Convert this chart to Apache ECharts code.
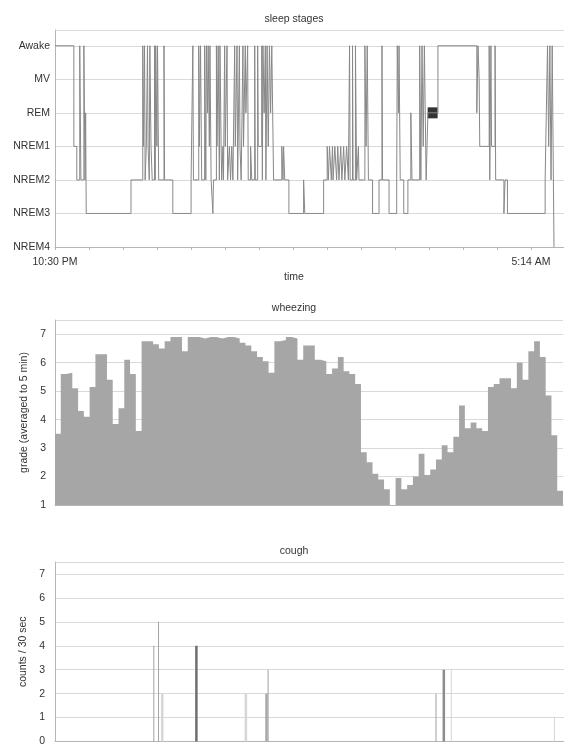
<!DOCTYPE html>
<html>
<head>
<meta charset="utf-8">
<script src="https://cdn.jsdelivr.net/npm/echarts@6/dist/echarts.min.js"></script>
<style>
html,body{margin:0;padding:0;background:#fff;}
#c{width:564px;height:747px;}
</style>
</head>
<body>
<div id="c"></div>
<script>
// ---------- DATA ----------
// sleep stages (0=NREM4 ... 6=Awake); times in minutes after 10:30 PM
var stageNames = ['NREM4', 'NREM3', 'NREM2', 'NREM1', 'REM', 'MV', 'Awake'];
var xTickLabels = ['10:30 PM', '5:14 AM'];
var xTickMinutes = [0, 404];

var hypTimes = [
  0, 16, 18.5, 21, 22, 24.5, 25.5, 26, 26.5,
  64.5,
  74.5, 75, 76, 76.5, 77.5, 78.5, 79, 80, 80.5, 81.5, 82.5, 84.5, 85, 85.5, 86.5, 87, 88, 92.5, 93,
  100, 115.5,
  117, 117.5, 122, 122.5, 123.5, 124.5, 127, 128, 128.5, 129.5, 130, 131, 131.5, 132.5, 134, 134.5,
  137, 137.5, 138.5, 139.5, 140, 141, 141.5, 142.5, 143, 144, 144.5, 146, 146.5, 148, 149, 150, 151,
  152.5, 153, 154.5, 155, 156.5, 157, 158, 159.5, 160, 161.5, 162, 163.5, 164, 166, 167, 169.5, 170,
  172, 172.5, 175.5, 176, 176.5, 177.5, 178.5, 179, 180, 181, 182, 183, 184, 185.5,
  192.5, 193.5, 194, 195, 198.5, 211, 212, 228,
  231, 232, 233, 234.5, 235.5, 236, 237.5, 239, 240, 241, 242.5, 243.5, 245, 246, 247.5, 249,
  250, 250.5, 252.5, 253, 255, 256, 257.5, 258, 263, 264, 265, 266, 269.5, 275,
  277.5, 278, 283.5, 290, 290.5, 291.5, 292, 293, 296, 299.5,
  302, 303, 309.5, 310.5, 311.5, 312.5, 313.5, 315, 316.5,
  325, 358, 359, 360, 360.5, 368.5, 369, 370, 370.5, 373.5, 374,
  381, 382, 384, 416, 417, 418, 419, 420, 421, 422, 423.5
];
var hypStages = [
  6, 3, 2, 6, 2, 6, 2, 4, 1,
  2,
  6, 3, 6, 2, 3, 6, 3, 2, 6, 3, 2, 6, 2, 6, 3, 6, 2, 6, 2,
  1, 2,
  6, 2, 6, 3, 6, 2, 6, 2, 6, 4, 6, 3, 6, 2, 1, 2,
  6, 3, 6, 2, 6, 3, 2, 3, 2, 6, 3, 6, 2, 3, 2, 3, 2,
  6, 3, 6, 2, 6, 3, 2, 6, 3, 6, 4, 6, 2, 3, 2, 6, 2,
  6, 3, 6, 2, 6, 4, 6, 2, 6, 3, 6, 4, 6, 2,
  3, 2, 3, 2, 1, 2, 1, 2,
  3, 2, 3, 2, 3, 2, 3, 2, 3, 2, 3, 2, 3, 2, 3, 2,
  6, 2, 6, 2, 6, 2, 3, 2, 6, 3, 6, 2, 1, 2,
  6, 2, 1, 2, 6, 4, 6, 2, 1, 2,
  4, 2, 6, 2, 6, 3, 6, 2, 4,
  6, 4, 6, 5, 3, 6, 2, 6, 3, 6, 2,
  1, 2, 1, 2, 4, 6, 3, 6, 2, 6, 0
];
var remBlockTime = [320.5];
var remBlockStage = [4];

// wheezing grade averaged to 5 min (one value per 5-min bin)
var wheezing = [
  3.5, 5.6, 5.65, 5.1, 4.3, 4.1, 5.15, 6.3, 6.3, 5.4,
  3.85, 4.4, 6.1, 5.6, 3.6, 6.75, 6.75, 6.65, 6.5, 6.75,
  6.9, 6.9, 6.4, 6.9, 6.9, 6.85, 6.9, 6.9, 6.85, 6.9,
  6.9, 6.85, 6.7, 6.6, 6.4, 6.2, 6.05, 5.65, 6.75, 6.8,
  6.9, 6.85, 6.1, 6.6, 6.6, 6.1, 6.05, 5.6, 5.8, 6.2,
  5.7, 5.6, 5.25, 2.85, 2.5, 2.1, 1.9, 1.55, 1.0, 1.95,
  1.55, 1.7, 2.0, 2.8, 2.05, 2.25, 2.6, 3.1, 2.85, 3.4,
  4.5, 3.7, 3.9, 3.7, 3.6, 5.15, 5.25, 5.45, 5.45, 5.1,
  6.0, 5.4, 6.4, 6.75, 6.2, 4.85, 3.45, 1.5
];

// cough counts per 30 sec (minutes after 10:30 PM)
var coughTimes = [84.5, 88.5, 91, 120, 162, 179.5, 181.5, 324, 330, 337, 424.5];
var coughCounts = [4, 5, 2, 4, 2, 2, 3, 2, 3, 3, 1];

// ---------- STYLE ----------
var coughShade = ['#a2a2a2', '#a2a2a2', '#d6d6d6', '#6f6f6f', '#d6d6d6', '#a8a8a8', '#a2a2a2', '#a2a2a2', '#8c8c8c', '#d6d6d6', '#d6d6d6'];
var coughWide = [false, false, true, true, true, true, false, false, true, false, false];

var FONT = 'Liberation Sans, Arial, sans-serif';
var GRID_C = '#d9d9d9';
var AXIS_C = '#b5b5b5';
var TXT = '#333';
var FS = 10.5;
var WHEEZE_C = '#a6a6a6';

var hypData = hypTimes.map(function (t, i) { return [t, hypStages[i]]; });
var remData = remBlockTime.map(function (t, i) { return [t, remBlockStage[i]]; });
// each 5-min bin i spans [i, i+1]; the final point closes the last bin
var wheezeData = wheezing.map(function (v, i) { return [i, v]; });
wheezeData.push([wheezing.length, wheezing[wheezing.length - 1]]);

function coughItems(wide) {
  var out = [];
  coughTimes.forEach(function (t, i) {
    if (coughWide[i] === wide) out.push({ value: [t, coughCounts[i]], itemStyle: { color: coughShade[i] } });
  });
  return out;
}

var TMAX = 432;
var TINT = 404 / 14;

function intLabel(v) { return Math.abs(v - Math.round(v)) < 1e-6 ? String(Math.round(v)) : ''; }

function yAxisCommon(extra) {
  var base = {
    type: 'value',
    interval: 1,
    axisLine: { show: true, lineStyle: { color: AXIS_C, width: 1 } },
    axisTick: { show: false },
    splitLine: { show: true, lineStyle: { color: GRID_C, width: 1 } },
    nameTextStyle: { fontSize: FS, color: TXT, fontFamily: FONT }
  };
  for (var k in extra) base[k] = extra[k];
  return base;
}

function titleAt(text, top) {
  return { text: text, left: 289, top: top, textAlign: 'center',
    textStyle: { fontSize: FS, fontWeight: 'normal', color: TXT, fontFamily: FONT } };
}

var option = {
  animation: false,
  backgroundColor: '#fff',
  textStyle: { fontFamily: FONT },
  title: [
    titleAt('sleep stages', 9),
    titleAt('time', 267),
    titleAt('wheezing', 298),
    titleAt('cough', 541)
  ],
  grid: [
    { left: 55, right: 0, top: 30, height: 217 },
    { left: 55, right: 1, top: 320, height: 185 },
    { left: 55, right: 0, top: 562, height: 183 }
  ],
  xAxis: [
    { gridIndex: 0, type: 'value', min: 0, max: TMAX, interval: TINT,
      axisLine: { show: true, lineStyle: { color: AXIS_C } },
      axisTick: { show: true, length: 3, lineStyle: { color: AXIS_C } },
      splitLine: { show: false },
      axisLabel: { fontSize: FS, color: TXT, fontFamily: FONT, margin: 10, showMaxLabel: false,
        formatter: function (v) {
          for (var i = 0; i < xTickMinutes.length; i++) {
            if (Math.abs(v - xTickMinutes[i]) < 0.5) return xTickLabels[i];
          }
          return '';
        } } },
    { gridIndex: 1, type: 'value', min: 0, max: wheezing.length,
      axisLine: { show: true, lineStyle: { color: AXIS_C } },
      axisTick: { show: false }, axisLabel: { show: false }, splitLine: { show: false } },
    { gridIndex: 2, type: 'value', min: 0, max: TMAX,
      axisLine: { show: true, lineStyle: { color: AXIS_C } },
      axisTick: { show: false }, axisLabel: { show: false }, splitLine: { show: false } }
  ],
  yAxis: [
    yAxisCommon({ gridIndex: 0, min: 0, max: 6.47,
      axisLabel: { fontSize: FS, color: TXT, fontFamily: FONT, margin: 5,
        formatter: function (v) { return Math.abs(v - Math.round(v)) < 1e-6 ? (stageNames[Math.round(v)] || '') : ''; } } }),
    yAxisCommon({ gridIndex: 1, min: 1, max: 7.5, name: 'grade (averaged to 5 min)',
      nameLocation: 'middle', nameGap: 24, nameRotate: 90,
      axisLabel: { fontSize: FS, color: TXT, fontFamily: FONT, margin: 9, formatter: intLabel } }),
    yAxisCommon({ gridIndex: 2, min: 0, max: 7.5, name: 'counts / 30 sec',
      nameLocation: 'middle', nameGap: 24, nameRotate: 90,
      axisLabel: { fontSize: FS, color: TXT, fontFamily: FONT, margin: 10, formatter: intLabel } })
  ],
  series: [
    { type: 'line', xAxisIndex: 0, yAxisIndex: 0, data: hypData, step: 'end',
      symbol: 'none', lineStyle: { color: '#888888', width: 1 }, silent: true },
    { type: 'scatter', xAxisIndex: 0, yAxisIndex: 0, data: remData,
      symbol: 'rect', symbolSize: [10, 11], itemStyle: { color: '#000' }, silent: true },
    { type: 'line', xAxisIndex: 1, yAxisIndex: 1, data: wheezeData, step: 'end',
      symbol: 'none', lineStyle: { color: WHEEZE_C, width: 0 },
      areaStyle: { color: WHEEZE_C, opacity: 1, origin: 'start' }, silent: true },
    { type: 'bar', xAxisIndex: 2, yAxisIndex: 2, data: coughItems(false),
      barWidth: 1, barGap: '-100%', silent: true },
    { type: 'bar', xAxisIndex: 2, yAxisIndex: 2, data: coughItems(true),
      barWidth: 2.5, barGap: '-100%', silent: true }
  ]
};

var chart = echarts.init(document.getElementById('c'), null, { renderer: 'canvas' });
chart.setOption(option);
</script>
</body>
</html>
